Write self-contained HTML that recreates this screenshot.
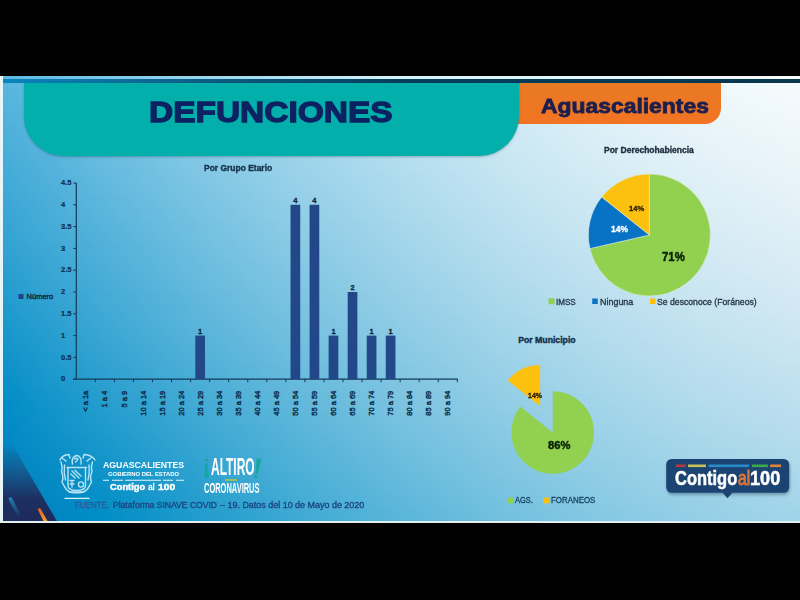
<!DOCTYPE html>
<html><head><meta charset="utf-8"><style>
html,body{margin:0;padding:0;background:#000;width:800px;height:600px;overflow:hidden}
.t{position:absolute;white-space:nowrap;font-family:"Liberation Sans",sans-serif;transform-origin:0 0}
.b{font-weight:700}
.xl{text-align:right;transform-origin:100% 50%;transform:rotate(-90deg);color:#10304c;font-weight:400;-webkit-text-stroke:0.45px #10304c}
#slide{position:absolute;left:0;top:76px;width:800px;height:447px;overflow:hidden}
#bg div{position:absolute;left:0;width:800px}
</style></head><body>
<div id="slide">
<div id="bg">
<div style="top:0px;height:6px;background:linear-gradient(90deg,#57b6de 0px,#77c4e4 100px,#94d1ea 200px,#addcef 300px,#c2e6f3 400px,#d4edf7 500px,#e3f4f9 600px,#eef8fb 700px,#f6fbfd 800px)"></div>
<div style="top:6px;height:6px;background:linear-gradient(90deg,#56b5dd 0px,#76c3e4 100px,#92d0ea 200px,#acdbef 300px,#c1e5f3 400px,#d3edf6 500px,#e2f3f9 600px,#eef8fb 700px,#f5fbfc 800px)"></div>
<div style="top:12px;height:6px;background:linear-gradient(90deg,#54b4dd 0px,#74c3e4 100px,#91d0e9 200px,#aadbee 300px,#c0e4f3 400px,#d3ecf6 500px,#e1f3f9 600px,#edf7fb 700px,#f5fafc 800px)"></div>
<div style="top:18px;height:6px;background:linear-gradient(90deg,#53b4dd 0px,#73c2e3 100px,#90cfe9 200px,#a9daee 300px,#bfe4f2 400px,#d2ecf6 500px,#e0f2f9 600px,#ecf7fb 700px,#f4fafc 800px)"></div>
<div style="top:24px;height:6px;background:linear-gradient(90deg,#52b3dc 0px,#72c1e3 100px,#8fcee9 200px,#a8daee 300px,#bee3f2 400px,#d1ebf5 500px,#e0f2f8 600px,#ebf6fa 700px,#f3f9fc 800px)"></div>
<div style="top:30px;height:6px;background:linear-gradient(90deg,#50b2dc 0px,#71c1e2 100px,#8ecee8 200px,#a7d9ed 300px,#bde3f2 400px,#d0ebf5 500px,#dff1f8 600px,#eaf6fa 700px,#f2f9fb 800px)"></div>
<div style="top:36px;height:6px;background:linear-gradient(90deg,#4fb1db 0px,#6fc0e2 100px,#8ccde8 200px,#a6d8ed 300px,#bce2f1 400px,#cfeaf5 500px,#def0f8 600px,#e9f5fa 700px,#f2f8fb 800px)"></div>
<div style="top:42px;height:6px;background:linear-gradient(90deg,#4eb1db 0px,#6ebfe2 100px,#8bcce7 200px,#a5d8ed 300px,#bbe2f1 400px,#cdeaf5 500px,#ddf0f7 600px,#e8f5fa 700px,#f1f8fb 800px)"></div>
<div style="top:48px;height:6px;background:linear-gradient(90deg,#4cb0db 0px,#6dbfe1 100px,#8acce7 200px,#a4d7ec 300px,#bae1f1 400px,#cce9f4 500px,#dceff7 600px,#e8f4f9 700px,#f0f7fb 800px)"></div>
<div style="top:54px;height:6px;background:linear-gradient(90deg,#4bafda 0px,#6bbee1 100px,#89cbe7 200px,#a2d7ec 300px,#b9e0f0 400px,#cbe8f4 500px,#dbeff7 600px,#e7f4f9 700px,#eff7fa 800px)"></div>
<div style="top:60px;height:6px;background:linear-gradient(90deg,#49afda 0px,#6abde0 100px,#87cae6 200px,#a1d6eb 300px,#b7e0f0 400px,#cae8f4 500px,#daeef7 600px,#e6f3f9 700px,#eef6fa 800px)"></div>
<div style="top:66px;height:6px;background:linear-gradient(90deg,#48aed9 0px,#69bde0 100px,#86cae6 200px,#a0d5eb 300px,#b6dff0 400px,#c9e7f3 500px,#d9eef6 600px,#e5f3f8 700px,#edf6fa 800px)"></div>
<div style="top:72px;height:6px;background:linear-gradient(90deg,#47add9 0px,#67bce0 100px,#85c9e6 200px,#9fd5eb 300px,#b5dfef 400px,#c8e7f3 500px,#d8edf6 600px,#e4f2f8 700px,#ecf5fa 800px)"></div>
<div style="top:78px;height:6px;background:linear-gradient(90deg,#45acd8 0px,#66bbdf 100px,#83c8e5 200px,#9dd4ea 300px,#b4deef 400px,#c7e6f3 500px,#d7edf6 600px,#e3f2f8 700px,#ecf5f9 800px)"></div>
<div style="top:84px;height:6px;background:linear-gradient(90deg,#44acd8 0px,#65bbdf 100px,#82c8e5 200px,#9cd3ea 300px,#b3ddef 400px,#c6e6f2 500px,#d6ecf5 600px,#e2f1f8 700px,#ebf5f9 800px)"></div>
<div style="top:90px;height:6px;background:linear-gradient(90deg,#42abd8 0px,#63bade 100px,#81c7e4 200px,#9bd3ea 300px,#b2ddee 400px,#c5e5f2 500px,#d5ecf5 600px,#e1f1f7 700px,#eaf4f9 800px)"></div>
<div style="top:96px;height:6px;background:linear-gradient(90deg,#41aad7 0px,#62b9de 100px,#80c6e4 200px,#9ad2e9 300px,#b0dcee 400px,#c4e4f2 500px,#d4ebf5 600px,#e0f0f7 700px,#e9f4f9 800px)"></div>
<div style="top:102px;height:6px;background:linear-gradient(90deg,#3fa9d7 0px,#60b8de 100px,#7ec6e4 200px,#98d1e9 300px,#afdbee 400px,#c3e4f1 500px,#d2ebf4 600px,#dff0f7 700px,#e8f3f8 800px)"></div>
<div style="top:108px;height:6px;background:linear-gradient(90deg,#3ea9d6 0px,#5fb8dd 100px,#7dc5e3 200px,#97d1e9 300px,#aedbed 400px,#c1e3f1 500px,#d1eaf4 600px,#deeff7 700px,#e7f3f8 800px)"></div>
<div style="top:114px;height:6px;background:linear-gradient(90deg,#3ca8d6 0px,#5eb7dd 100px,#7bc4e3 200px,#96d0e8 300px,#addaed 400px,#c0e3f1 500px,#d0e9f4 600px,#ddeff6 700px,#e6f2f8 800px)"></div>
<div style="top:120px;height:6px;background:linear-gradient(90deg,#3ba7d5 0px,#5cb6dc 100px,#7ac4e2 200px,#95cfe8 300px,#acdaed 400px,#bfe2f0 500px,#cfe9f4 600px,#dceef6 700px,#e5f2f8 800px)"></div>
<div style="top:126px;height:6px;background:linear-gradient(90deg,#39a6d5 0px,#5bb6dc 100px,#79c3e2 200px,#93cfe8 300px,#aad9ec 400px,#bee2f0 500px,#cee8f3 600px,#dbeef6 700px,#e4f1f7 800px)"></div>
<div style="top:132px;height:6px;background:linear-gradient(90deg,#38a6d5 0px,#59b5dc 100px,#77c2e2 200px,#92cee7 300px,#a9d8ec 400px,#bde1f0 500px,#cde8f3 600px,#daedf5 700px,#e3f1f7 800px)"></div>
<div style="top:138px;height:6px;background:linear-gradient(90deg,#36a5d4 0px,#58b4db 100px,#76c2e1 200px,#91cee7 300px,#a8d8ec 400px,#bce0ef 500px,#cce7f3 600px,#d9edf5 700px,#e2f0f7 800px)"></div>
<div style="top:144px;height:6px;background:linear-gradient(90deg,#35a4d4 0px,#56b3db 100px,#74c1e1 200px,#8fcde6 300px,#a6d7eb 400px,#bae0ef 500px,#cbe7f2 600px,#d8ecf5 700px,#e1f0f7 800px)"></div>
<div style="top:150px;height:6px;background:linear-gradient(90deg,#33a3d3 0px,#55b3da 100px,#73c0e1 200px,#8ecce6 300px,#a5d6eb 400px,#b9dfef 500px,#cae6f2 600px,#d7ebf5 700px,#e0eff6 800px)"></div>
<div style="top:156px;height:6px;background:linear-gradient(90deg,#31a3d3 0px,#53b2da 100px,#72c0e0 200px,#8ccce6 300px,#a4d6ea 400px,#b8dfef 500px,#c8e6f2 600px,#d5ebf4 700px,#dfeff6 800px)"></div>
<div style="top:162px;height:6px;background:linear-gradient(90deg,#30a2d2 0px,#52b1d9 100px,#70bfe0 200px,#8bcbe5 300px,#a3d5ea 400px,#b7deee 500px,#c7e5f1 600px,#d4eaf4 700px,#deeef6 800px)"></div>
<div style="top:168px;height:6px;background:linear-gradient(90deg,#2ea1d2 0px,#50b0d9 100px,#6fbedf 200px,#8acae5 300px,#a1d5ea 400px,#b5ddee 500px,#c6e4f1 600px,#d3eaf4 700px,#ddeef6 800px)"></div>
<div style="top:174px;height:6px;background:linear-gradient(90deg,#2da0d2 0px,#4fb0d9 100px,#6dbddf 200px,#88cae5 300px,#a0d4e9 400px,#b4ddee 500px,#c5e4f1 600px,#d2e9f3 700px,#dcedf5 800px)"></div>
<div style="top:180px;height:6px;background:linear-gradient(90deg,#2ba0d1 0px,#4dafd8 100px,#6cbddf 200px,#87c9e4 300px,#9fd3e9 400px,#b3dced 500px,#c4e3f1 600px,#d1e9f3 700px,#dbedf5 800px)"></div>
<div style="top:186px;height:6px;background:linear-gradient(90deg,#299fd1 0px,#4baed8 100px,#6abcde 200px,#85c8e4 300px,#9dd3e9 400px,#b1dced 500px,#c2e3f0 600px,#d0e8f3 700px,#daecf5 800px)"></div>
<div style="top:192px;height:6px;background:linear-gradient(90deg,#289ed0 0px,#4aadd7 100px,#69bbde 200px,#84c7e3 300px,#9cd2e8 400px,#b0dbed 500px,#c1e2f0 600px,#cfe8f3 700px,#d9ecf5 800px)"></div>
<div style="top:198px;height:6px;background:linear-gradient(90deg,#269dd0 0px,#48add7 100px,#67bbdd 200px,#82c7e3 300px,#9ad1e8 400px,#afdaec 500px,#c0e2f0 600px,#cde7f2 700px,#d7ebf4 800px)"></div>
<div style="top:204px;height:6px;background:linear-gradient(90deg,#249ccf 0px,#47acd7 100px,#66badd 200px,#81c6e3 300px,#99d1e8 400px,#aedaec 500px,#bfe1ef 600px,#cce7f2 700px,#d6ebf4 800px)"></div>
<div style="top:210px;height:6px;background:linear-gradient(90deg,#239ccf 0px,#45abd6 100px,#64b9dd 200px,#80c5e2 300px,#98d0e7 400px,#acd9ec 500px,#bde0ef 600px,#cbe6f2 700px,#d5eaf4 800px)"></div>
<div style="top:216px;height:6px;background:linear-gradient(90deg,#219bce 0px,#43aad6 100px,#62b8dc 200px,#7ec5e2 300px,#96cfe7 400px,#abd8eb 500px,#bce0ef 600px,#cae5f1 700px,#d4e9f4 800px)"></div>
<div style="top:222px;height:6px;background:linear-gradient(90deg,#1f9ace 0px,#42aad5 100px,#61b8dc 200px,#7dc4e2 300px,#95cfe7 400px,#a9d8eb 500px,#bbdfee 600px,#c9e5f1 700px,#d3e9f3 800px)"></div>
<div style="top:228px;height:6px;background:linear-gradient(90deg,#1d99ce 0px,#40a9d5 100px,#5fb7db 200px,#7bc3e1 300px,#93cee6 400px,#a8d7eb 500px,#b9dfee 600px,#c7e4f1 700px,#d2e8f3 800px)"></div>
<div style="top:234px;height:6px;background:linear-gradient(90deg,#1c99cd 0px,#3ea8d4 100px,#5eb6db 200px,#7ac3e1 300px,#92cde6 400px,#a7d7ea 500px,#b8deee 600px,#c6e4f1 700px,#d1e8f3 800px)"></div>
<div style="top:240px;height:6px;background:linear-gradient(90deg,#1a98cd 0px,#3da7d4 100px,#5cb6db 200px,#78c2e0 300px,#90cde6 400px,#a5d6ea 500px,#b7dded 600px,#c5e3f0 700px,#cfe7f2 800px)"></div>
<div style="top:246px;height:6px;background:linear-gradient(90deg,#1897cc 0px,#3ba7d4 100px,#5ab5da 200px,#76c1e0 300px,#8fcce5 400px,#a4d5ea 500px,#b5dded 600px,#c3e3f0 700px,#cee7f2 800px)"></div>
<div style="top:252px;height:6px;background:linear-gradient(90deg,#1696cc 0px,#39a6d3 100px,#59b4da 200px,#75c1e0 300px,#8dcbe5 400px,#a2d5e9 500px,#b4dced 600px,#c2e2f0 700px,#cde6f2 800px)"></div>
<div style="top:258px;height:6px;background:linear-gradient(90deg,#1595cb 0px,#38a5d3 100px,#57b3d9 200px,#73c0df 300px,#8ccbe4 400px,#a1d4e9 500px,#b3dced 600px,#c1e1ef 700px,#cce6f2 800px)"></div>
<div style="top:264px;height:6px;background:linear-gradient(90deg,#1395cb 0px,#36a4d2 100px,#56b3d9 200px,#72bfdf 300px,#8acae4 400px,#a0d3e9 500px,#b1dbec 600px,#c0e1ef 700px,#cae5f1 800px)"></div>
<div style="top:270px;height:6px;background:linear-gradient(90deg,#1194ca 0px,#34a4d2 100px,#54b2d9 200px,#70bedf 300px,#89c9e4 400px,#9ed3e8 500px,#b0daec 600px,#bee0ef 700px,#c9e5f1 800px)"></div>
<div style="top:276px;height:6px;background:linear-gradient(90deg,#0f93ca 0px,#32a3d2 100px,#52b1d8 200px,#6fbede 300px,#87c9e3 400px,#9dd2e8 500px,#afdaec 600px,#bde0ef 700px,#c8e4f1 800px)"></div>
<div style="top:282px;height:6px;background:linear-gradient(90deg,#0d92ca 0px,#31a2d1 100px,#51b0d8 200px,#6dbdde 300px,#86c8e3 400px,#9bd1e8 500px,#add9eb 600px,#bcdfee 700px,#c7e4f1 800px)"></div>
<div style="top:288px;height:6px;background:linear-gradient(90deg,#0c91c9 0px,#2fa1d1 100px,#4fb0d7 200px,#6bbcdd 300px,#84c7e3 400px,#9ad1e7 500px,#acd8eb 600px,#badfee 700px,#c5e3f0 800px)"></div>
<div style="top:294px;height:6px;background:linear-gradient(90deg,#0a90c9 0px,#2da0d0 100px,#4dafd7 200px,#6abcdd 300px,#83c7e2 400px,#98d0e7 500px,#aad8eb 600px,#b9deee 700px,#c4e2f0 800px)"></div>
<div style="top:300px;height:6px;background:linear-gradient(90deg,#0890c8 0px,#2ba0d0 100px,#4baed7 200px,#68bbdd 300px,#81c6e2 400px,#97cfe7 500px,#a9d7ea 600px,#b8dded 700px,#c3e2f0 800px)"></div>
<div style="top:306px;height:6px;background:linear-gradient(90deg,#068fc8 0px,#2a9fcf 100px,#4aadd6 200px,#66badc 300px,#7fc5e2 400px,#95cfe6 500px,#a7d7ea 600px,#b6dded 700px,#c1e1ef 800px)"></div>
<div style="top:312px;height:6px;background:linear-gradient(90deg,#048ec7 0px,#289ecf 100px,#48add6 200px,#65b9dc 300px,#7ec5e1 400px,#94cee6 500px,#a6d6ea 600px,#b5dced 700px,#c0e1ef 800px)"></div>
<div style="top:318px;height:6px;background:linear-gradient(90deg,#028dc7 0px,#269dce 100px,#46acd5 200px,#63b9db 300px,#7cc4e1 400px,#92cde5 500px,#a4d5e9 600px,#b3dced 700px,#bfe0ef 800px)"></div>
<div style="top:324px;height:6px;background:linear-gradient(90deg,#008cc6 0px,#249dce 100px,#44abd5 200px,#61b8db 300px,#7bc3e1 400px,#91cde5 500px,#a3d5e9 600px,#b2dbec 700px,#bde0ef 800px)"></div>
<div style="top:330px;height:6px;background:linear-gradient(90deg,#008cc6 0px,#229cce 100px,#43aad5 200px,#60b7db 300px,#79c3e0 400px,#8fcce5 500px,#a1d4e9 600px,#b0daec 700px,#bcdfee 800px)"></div>
<div style="top:336px;height:6px;background:linear-gradient(90deg,#008bc6 0px,#209bcd 100px,#41aad4 200px,#5eb7da 300px,#77c2e0 400px,#8dcbe4 500px,#a0d3e8 600px,#afdaec 700px,#bbdeee 800px)"></div>
<div style="top:342px;height:6px;background:linear-gradient(90deg,#008ac5 0px,#1f9acd 100px,#3fa9d4 200px,#5cb6da 300px,#76c1df 400px,#8ccbe4 500px,#9ed3e8 600px,#aed9eb 700px,#b9deee 800px)"></div>
<div style="top:348px;height:6px;background:linear-gradient(90deg,#0089c5 0px,#1d99cc 100px,#3da8d3 200px,#5ab5da 300px,#74c0df 400px,#8acae4 500px,#9dd2e8 600px,#acd9eb 700px,#b8dded 800px)"></div>
<div style="top:354px;height:6px;background:linear-gradient(90deg,#0088c4 0px,#1b99cc 100px,#3ba7d3 200px,#59b4d9 300px,#72c0df 400px,#89c9e3 500px,#9bd2e7 600px,#abd8eb 700px,#b7dded 800px)"></div>
<div style="top:360px;height:6px;background:linear-gradient(90deg,#0087c4 0px,#1998cb 100px,#3aa6d2 200px,#57b4d9 300px,#71bfde 400px,#87c9e3 500px,#9ad1e7 600px,#a9d7ea 700px,#b5dced 800px)"></div>
<div style="top:366px;height:6px;background:linear-gradient(90deg,#0087c3 0px,#1797cb 100px,#38a6d2 200px,#55b3d8 300px,#6fbede 400px,#85c8e3 500px,#98d0e7 600px,#a8d7ea 700px,#b4dced 800px)"></div>
<div style="top:372px;height:6px;background:linear-gradient(90deg,#0086c3 0px,#1596cb 100px,#36a5d2 200px,#53b2d8 300px,#6dbede 400px,#84c7e2 500px,#97d0e6 600px,#a6d6ea 700px,#b2dbec 800px)"></div>
<div style="top:378px;height:6px;background:linear-gradient(90deg,#0085c2 0px,#1395ca 100px,#34a4d1 200px,#51b1d8 300px,#6bbddd 400px,#82c7e2 500px,#95cfe6 600px,#a5d5e9 700px,#b1daec 800px)"></div>
<div style="top:384px;height:6px;background:linear-gradient(90deg,#0084c2 0px,#1194ca 100px,#32a3d1 200px,#50b1d7 300px,#6abcdd 400px,#80c6e2 500px,#93cee6 600px,#a3d5e9 700px,#afdaec 800px)"></div>
<div style="top:390px;height:6px;background:linear-gradient(90deg,#0083c1 0px,#0f94c9 100px,#30a3d0 200px,#4eb0d7 300px,#68bbdc 400px,#7fc5e1 500px,#92cee5 600px,#a2d4e9 700px,#aed9eb 800px)"></div>
<div style="top:396px;height:6px;background:linear-gradient(90deg,#0082c1 0px,#0d93c9 100px,#2ea2d0 200px,#4cafd6 300px,#66bbdc 400px,#7dc5e1 500px,#90cde5 600px,#a0d4e9 700px,#acd9eb 800px)"></div>
<div style="top:402px;height:6px;background:linear-gradient(90deg,#0081c0 0px,#0b92c8 100px,#2ca1d0 200px,#4aaed6 300px,#64badc 400px,#7bc4e1 500px,#8fcce5 600px,#9ed3e8 700px,#abd8eb 800px)"></div>
<div style="top:408px;height:6px;background:linear-gradient(90deg,#0081c0 0px,#0991c8 100px,#2ba0cf 200px,#48aed6 300px,#63b9db 400px,#7ac3e0 500px,#8dcce4 600px,#9dd2e8 700px,#a9d7eb 800px)"></div>
<div style="top:414px;height:6px;background:linear-gradient(90deg,#0080c0 0px,#0790c7 100px,#299fcf 200px,#46add5 300px,#61b8db 400px,#78c3e0 500px,#8bcbe4 600px,#9bd2e8 700px,#a8d7ea 800px)"></div>
<div style="top:420px;height:6px;background:linear-gradient(90deg,#007fbf 0px,#0590c7 100px,#279fce 200px,#45acd5 300px,#5fb8db 400px,#76c2e0 500px,#8acae4 600px,#9ad1e7 700px,#a6d6ea 800px)"></div>
<div style="top:426px;height:6px;background:linear-gradient(90deg,#007ebf 0px,#038fc7 100px,#259ece 200px,#43abd4 300px,#5db7da 400px,#74c1df 500px,#88cae3 600px,#98d0e7 700px,#a5d6ea 800px)"></div>
<div style="top:432px;height:6px;background:linear-gradient(90deg,#007dbe 0px,#018ec6 100px,#239dcd 200px,#41aad4 300px,#5bb6da 400px,#73c0df 500px,#86c9e3 600px,#96d0e7 700px,#a3d5e9 800px)"></div>
<div style="top:438px;height:6px;background:linear-gradient(90deg,#007cbe 0px,#008dc6 100px,#219ccd 200px,#3faad4 300px,#5ab6d9 400px,#71c0de 500px,#85c8e3 600px,#95cfe6 700px,#a2d4e9 800px)"></div>
<div style="top:444px;height:6px;background:linear-gradient(90deg,#007bbd 0px,#008cc5 100px,#1f9bcd 200px,#3da9d3 300px,#58b5d9 400px,#6fbfde 500px,#83c8e2 600px,#93cfe6 700px,#a0d4e9 800px)"></div>
</div>
</div>
<div style="position:absolute;left:0;top:76px;width:800px;height:3px;background:linear-gradient(90deg,#5cb9e2 0,#9ed8ef 220px,#d5f4fb 405px,#f0f8fb 720px,#f5fcfd 800px)"></div>
<div style="position:absolute;left:0;top:79px;width:800px;height:4px;background:linear-gradient(90deg,#0986bf 0,#0c5a7e 220px,#053e5c 405px,#08374e 800px)"></div>
<div style="position:absolute;left:0;top:76px;width:3px;height:447px;background:#e8f6fa"></div>
<div style="position:absolute;left:0;top:521px;width:800px;height:2px;background:#e2eef0"></div>
<!-- header -->
<div style="position:absolute;left:480px;top:83px;width:241px;height:40.5px;background:linear-gradient(180deg,#e97a24,#f27423);border-radius:0 0 16px 0"></div>
<div style="position:absolute;left:24px;top:83px;width:495px;height:72.5px;background:#03afaa;border-radius:0 0 40px 40px;box-shadow:0 1px 2.5px rgba(0,40,60,.3)"></div>
<svg style="position:absolute;left:0;top:0" width="800" height="600">
<line x1="76.3" y1="183" x2="76.3" y2="379.2" stroke="#133a58" stroke-width="1.2"/>
<line x1="73.3" y1="379.2" x2="457.8" y2="379.2" stroke="#133a58" stroke-width="1.2"/>
<line x1="73.3" y1="379.20" x2="76.3" y2="379.20" stroke="#133a58" stroke-width="1"/>
<line x1="73.3" y1="357.40" x2="76.3" y2="357.40" stroke="#133a58" stroke-width="1"/>
<line x1="73.3" y1="335.60" x2="76.3" y2="335.60" stroke="#133a58" stroke-width="1"/>
<line x1="73.3" y1="313.80" x2="76.3" y2="313.80" stroke="#133a58" stroke-width="1"/>
<line x1="73.3" y1="292.00" x2="76.3" y2="292.00" stroke="#133a58" stroke-width="1"/>
<line x1="73.3" y1="270.20" x2="76.3" y2="270.20" stroke="#133a58" stroke-width="1"/>
<line x1="73.3" y1="248.40" x2="76.3" y2="248.40" stroke="#133a58" stroke-width="1"/>
<line x1="73.3" y1="226.60" x2="76.3" y2="226.60" stroke="#133a58" stroke-width="1"/>
<line x1="73.3" y1="204.80" x2="76.3" y2="204.80" stroke="#133a58" stroke-width="1"/>
<line x1="73.3" y1="183.00" x2="76.3" y2="183.00" stroke="#133a58" stroke-width="1"/>
<line x1="95.35" y1="379.2" x2="95.35" y2="382.2" stroke="#133a58" stroke-width="1"/>
<line x1="114.40" y1="379.2" x2="114.40" y2="382.2" stroke="#133a58" stroke-width="1"/>
<line x1="133.45" y1="379.2" x2="133.45" y2="382.2" stroke="#133a58" stroke-width="1"/>
<line x1="152.50" y1="379.2" x2="152.50" y2="382.2" stroke="#133a58" stroke-width="1"/>
<line x1="171.55" y1="379.2" x2="171.55" y2="382.2" stroke="#133a58" stroke-width="1"/>
<line x1="190.60" y1="379.2" x2="190.60" y2="382.2" stroke="#133a58" stroke-width="1"/>
<line x1="209.65" y1="379.2" x2="209.65" y2="382.2" stroke="#133a58" stroke-width="1"/>
<line x1="228.70" y1="379.2" x2="228.70" y2="382.2" stroke="#133a58" stroke-width="1"/>
<line x1="247.75" y1="379.2" x2="247.75" y2="382.2" stroke="#133a58" stroke-width="1"/>
<line x1="266.80" y1="379.2" x2="266.80" y2="382.2" stroke="#133a58" stroke-width="1"/>
<line x1="285.85" y1="379.2" x2="285.85" y2="382.2" stroke="#133a58" stroke-width="1"/>
<line x1="304.90" y1="379.2" x2="304.90" y2="382.2" stroke="#133a58" stroke-width="1"/>
<line x1="323.95" y1="379.2" x2="323.95" y2="382.2" stroke="#133a58" stroke-width="1"/>
<line x1="343.00" y1="379.2" x2="343.00" y2="382.2" stroke="#133a58" stroke-width="1"/>
<line x1="362.05" y1="379.2" x2="362.05" y2="382.2" stroke="#133a58" stroke-width="1"/>
<line x1="381.10" y1="379.2" x2="381.10" y2="382.2" stroke="#133a58" stroke-width="1"/>
<line x1="400.15" y1="379.2" x2="400.15" y2="382.2" stroke="#133a58" stroke-width="1"/>
<line x1="419.20" y1="379.2" x2="419.20" y2="382.2" stroke="#133a58" stroke-width="1"/>
<line x1="438.25" y1="379.2" x2="438.25" y2="382.2" stroke="#133a58" stroke-width="1"/>
<line x1="457.30" y1="379.2" x2="457.30" y2="382.2" stroke="#133a58" stroke-width="1"/>
<rect x="195.28" y="335.60" width="9.7" height="43.60" fill="#23488a"/>
<rect x="290.52" y="204.80" width="9.7" height="174.40" fill="#23488a"/>
<rect x="309.57" y="204.80" width="9.7" height="174.40" fill="#23488a"/>
<rect x="328.62" y="335.60" width="9.7" height="43.60" fill="#23488a"/>
<rect x="347.68" y="292.00" width="9.7" height="87.20" fill="#23488a"/>
<rect x="366.73" y="335.60" width="9.7" height="43.60" fill="#23488a"/>
<rect x="385.77" y="335.60" width="9.7" height="43.60" fill="#23488a"/>
<path d="M649.40,235.00 L649.40,174.00 A61.0,61.0 0 1 1 589.93,248.57 Z" fill="#92d050" stroke="#dff0e4" stroke-width="0.5"/>
<path d="M649.40,235.00 L589.93,248.57 A61.0,61.0 0 0 1 601.71,196.97 Z" fill="#0872c4" stroke="#dff0e4" stroke-width="0.5"/>
<path d="M649.40,235.00 L601.71,196.97 A61.0,61.0 0 0 1 649.40,174.00 Z" fill="#fcc00f" stroke="#dff0e4" stroke-width="0.5"/>
<path d="M552.70,432.50 L552.70,391.20 A41.3,41.3 0 1 1 520.41,406.75 Z" fill="#92d050"/>
<path d="M540.12,406.37 L507.83,380.62 A41.3,41.3 0 0 1 540.12,365.07 Z" fill="#fcc00f"/>

<defs>
<linearGradient id="navyfade" x1="0" y1="0" x2="0" y2="1">
<stop offset="0" stop-color="#1e2b5c" stop-opacity="0"/>
<stop offset="0.35" stop-color="#1e3c6c" stop-opacity="0.55"/>
<stop offset="0.7" stop-color="#1e2b5c" stop-opacity="0.95"/>
<stop offset="1" stop-color="#1e2a5a" stop-opacity="1"/>
</linearGradient>
<linearGradient id="orstripe" x1="0" y1="0" x2="0" y2="1">
<stop offset="0" stop-color="#e8542a"/><stop offset="1" stop-color="#f4a424"/>
</linearGradient>
<linearGradient id="bluestripe" x1="0" y1="0" x2="0" y2="1">
<stop offset="0" stop-color="#1f8fc0"/><stop offset="1" stop-color="#1f8fc0" stop-opacity="0.2"/>
</linearGradient>
<filter id="bl" x="-10%" y="-10%" width="120%" height="120%"><feGaussianBlur stdDeviation="0.35"/></filter>
<filter id="sh" x="-20%" y="-20%" width="140%" height="160%"><feGaussianBlur stdDeviation="1.5"/></filter>
</defs>
<polygon points="3,444 12,444 56.8,521 3,521" fill="url(#navyfade)"/>
<line x1="10.5" y1="499" x2="18" y2="514" stroke="url(#bluestripe)" stroke-width="3.8" stroke-linecap="round" opacity="0.8"/>
<path d="M37.8,509.5 Q38.5,507.5 40.5,508.5 L47.5,521 L43.5,521 Z" fill="url(#orstripe)"/>
<!-- coat of arms -->
<g fill="none" stroke="#d8f2fc" stroke-width="1.4" stroke-linecap="round" stroke-linejoin="round" opacity="0.85" filter="url(#bl)">
<path d="M72.5,464 Q71,457 76.5,455.5 Q82,456 81,464"/>
<path d="M74.5,459 Q76,457.5 78,459 Q77,461 75.5,462"/>
<path d="M60,460 Q62,455 69,454.5 L70,458"/>
<path d="M95,460 Q92,455 84,454.5 L83,458"/>
<path d="M62,458 L66,461 M91,458 L87,461"/>
<path d="M61,462 Q63,467 61.5,472 Q64,477 62,482 Q64,486 66,489"/>
<path d="M92.5,462 Q90.5,467 92,472 Q89.5,477 91.5,482 Q89.5,486 87.5,489"/>
<path d="M64.5,465 Q63.5,473 65.5,480 M89,465 Q90,473 88,480"/>
<path d="M67,467.5 L86.5,467.5"/>
<path d="M68,468 L68,486 Q68,490 76.5,490.5 Q85.5,490 85.5,486 L85.5,468"/>
<path d="M72,471 L79,478 M75,470.5 L81,476 M71,474 L75,478"/>
<path d="M70,480.5 L74,480.5 M70,484 L74,484 M72,481 L72,487"/>
<circle cx="81" cy="484.5" r="2.6"/>
<path d="M66.5,489.5 Q70,493.5 76.5,492.5 Q83,493.5 87,489.5"/>
<path d="M69,492 L84,492"/>
</g>
<line x1="64.5" y1="498.4" x2="89.5" y2="498.4" stroke="#d8f2fc" stroke-width="1.3"/>
<!-- gobierno line -->
<path d="M103,480.2 H109 M112,480.2 H123 M125,480.2 H161 M163,480.2 H173 M176,480.2 H184" stroke="#e6f6fc" stroke-width="1.1"/>
<!-- altiro marks -->
<rect x="204.8" y="458.5" width="3" height="3" rx="0.8" fill="#17a6a3"/>
<path d="M205,463.5 L207.5,463.5 L209,478 L204.3,478 Z" fill="#17a6a3"/>
<path d="M256.5,458.5 L261.5,458.5 L258,474 L255.5,474 Z" fill="#17a6a3"/>
<rect x="254.3" y="475.3" width="3" height="3" rx="0.8" fill="#17a6a3"/>
<rect x="225" y="479" width="12" height="2" fill="#b8c640" opacity="0.8"/>
<!-- badge -->
<rect x="667" y="461" width="123" height="34" rx="6" fill="#0a2a40" opacity="0.35" filter="url(#sh)"/>
<rect x="666.2" y="459" width="123" height="33.8" rx="5.5" fill="#1c4472"/>
<path d="M722,492 L733,492 L727.5,498.2 Z" fill="#1c4472"/>
<rect x="675.8" y="464.5" width="10" height="2.6" fill="#b03a3e"/>
<rect x="688" y="464.5" width="18" height="2.6" fill="#c8c05a"/>
<rect x="708.6" y="464.5" width="40.4" height="2.6" fill="#2a8ac8"/>
<rect x="751.9" y="464.5" width="16" height="2.6" fill="#3fa84a"/>
<rect x="770.1" y="464.5" width="11" height="2.6" fill="#e0823a"/>
<rect x="18.5" y="294" width="5" height="5" fill="#283f8a"/>
<rect x="548.5" y="298.25" width="6" height="6" fill="#8fd14f"/>
<rect x="592.25" y="298.5" width="5.5" height="5.5" fill="#0872c4"/>
<rect x="650" y="298.5" width="5.5" height="5.5" fill="#fcc00f"/>
<rect x="507" y="497.4" width="6.5" height="6.2" rx="2" fill="#8fd14f"/>
<rect x="543" y="497.4" width="6.5" height="6.2" rx="2" fill="#fcc00f"/>
</svg>
<div class="t" style="left:61px;top:375.45px;font-size:7.5px;line-height:7.5px;font-weight:700;color:#10304c;-webkit-text-stroke:0.2px #10304c">0</div>
<div class="t" style="left:61px;top:353.65px;font-size:7.5px;line-height:7.5px;font-weight:700;color:#10304c;-webkit-text-stroke:0.2px #10304c">0.5</div>
<div class="t" style="left:61px;top:331.85px;font-size:7.5px;line-height:7.5px;font-weight:700;color:#10304c;-webkit-text-stroke:0.2px #10304c">1</div>
<div class="t" style="left:61px;top:310.05px;font-size:7.5px;line-height:7.5px;font-weight:700;color:#10304c;-webkit-text-stroke:0.2px #10304c">1.5</div>
<div class="t" style="left:61px;top:288.25px;font-size:7.5px;line-height:7.5px;font-weight:700;color:#10304c;-webkit-text-stroke:0.2px #10304c">2</div>
<div class="t" style="left:61px;top:266.45px;font-size:7.5px;line-height:7.5px;font-weight:700;color:#10304c;-webkit-text-stroke:0.2px #10304c">2.5</div>
<div class="t" style="left:61px;top:244.65px;font-size:7.5px;line-height:7.5px;font-weight:700;color:#10304c;-webkit-text-stroke:0.2px #10304c">3</div>
<div class="t" style="left:61px;top:222.85px;font-size:7.5px;line-height:7.5px;font-weight:700;color:#10304c;-webkit-text-stroke:0.2px #10304c">3.5</div>
<div class="t" style="left:61px;top:201.05px;font-size:7.5px;line-height:7.5px;font-weight:700;color:#10304c;-webkit-text-stroke:0.2px #10304c">4</div>
<div class="t" style="left:61px;top:179.25px;font-size:7.5px;line-height:7.5px;font-weight:700;color:#10304c;-webkit-text-stroke:0.2px #10304c">4.5</div>
<div class="t xl" style="left:46.42px;top:387.25px;width:40px;font-size:7.5px;line-height:7.5px">&lt; a 1a</div>
<div class="t xl" style="left:65.47px;top:387.25px;width:40px;font-size:7.5px;line-height:7.5px">1 a 4</div>
<div class="t xl" style="left:84.52px;top:387.25px;width:40px;font-size:7.5px;line-height:7.5px">5 a 9</div>
<div class="t xl" style="left:103.57px;top:387.25px;width:40px;font-size:7.5px;line-height:7.5px">10 a 14</div>
<div class="t xl" style="left:122.62px;top:387.25px;width:40px;font-size:7.5px;line-height:7.5px">15 a 19</div>
<div class="t xl" style="left:141.67px;top:387.25px;width:40px;font-size:7.5px;line-height:7.5px">20 a 24</div>
<div class="t xl" style="left:160.72px;top:387.25px;width:40px;font-size:7.5px;line-height:7.5px">25 a 29</div>
<div class="t xl" style="left:179.78px;top:387.25px;width:40px;font-size:7.5px;line-height:7.5px">30 a 34</div>
<div class="t xl" style="left:198.83px;top:387.25px;width:40px;font-size:7.5px;line-height:7.5px">35 a 39</div>
<div class="t xl" style="left:217.88px;top:387.25px;width:40px;font-size:7.5px;line-height:7.5px">40 a 44</div>
<div class="t xl" style="left:236.93px;top:387.25px;width:40px;font-size:7.5px;line-height:7.5px">45 a 49</div>
<div class="t xl" style="left:255.98px;top:387.25px;width:40px;font-size:7.5px;line-height:7.5px">50 a 54</div>
<div class="t xl" style="left:275.03px;top:387.25px;width:40px;font-size:7.5px;line-height:7.5px">55 a 59</div>
<div class="t xl" style="left:294.08px;top:387.25px;width:40px;font-size:7.5px;line-height:7.5px">60 a 64</div>
<div class="t xl" style="left:313.13px;top:387.25px;width:40px;font-size:7.5px;line-height:7.5px">65 a 69</div>
<div class="t xl" style="left:332.18px;top:387.25px;width:40px;font-size:7.5px;line-height:7.5px">70 a 74</div>
<div class="t xl" style="left:351.23px;top:387.25px;width:40px;font-size:7.5px;line-height:7.5px">75 a 79</div>
<div class="t xl" style="left:370.28px;top:387.25px;width:40px;font-size:7.5px;line-height:7.5px">80 a 84</div>
<div class="t xl" style="left:389.33px;top:387.25px;width:40px;font-size:7.5px;line-height:7.5px">85 a 89</div>
<div class="t xl" style="left:408.38px;top:387.25px;width:40px;font-size:7.5px;line-height:7.5px">90 a 94</div>
<div class="t b" style="left:190.12px;top:327.52px;width:20px;text-align:center;font-size:7.5px;line-height:7.5px;color:#10243a;-webkit-text-stroke:0.3px #10243a">1</div>
<div class="t b" style="left:285.38px;top:196.72px;width:20px;text-align:center;font-size:7.5px;line-height:7.5px;color:#10243a;-webkit-text-stroke:0.3px #10243a">4</div>
<div class="t b" style="left:304.43px;top:196.72px;width:20px;text-align:center;font-size:7.5px;line-height:7.5px;color:#10243a;-webkit-text-stroke:0.3px #10243a">4</div>
<div class="t b" style="left:323.48px;top:327.52px;width:20px;text-align:center;font-size:7.5px;line-height:7.5px;color:#10243a;-webkit-text-stroke:0.3px #10243a">1</div>
<div class="t b" style="left:342.53px;top:283.93px;width:20px;text-align:center;font-size:7.5px;line-height:7.5px;color:#10243a;-webkit-text-stroke:0.3px #10243a">2</div>
<div class="t b" style="left:361.58px;top:327.52px;width:20px;text-align:center;font-size:7.5px;line-height:7.5px;color:#10243a;-webkit-text-stroke:0.3px #10243a">1</div>
<div class="t b" style="left:380.62px;top:327.52px;width:20px;text-align:center;font-size:7.5px;line-height:7.5px;color:#10243a;-webkit-text-stroke:0.3px #10243a">1</div>
<div class="t" style="left:148.8px;top:95.74px;font-size:30.4px;line-height:30.4px;font-weight:700;color:#0c2262;transform:scaleX(1.101);-webkit-text-stroke:1.3px #0c2262;">DEFUNCIONES</div>
<div class="t" style="left:541px;top:96.08px;font-size:20.1px;line-height:20.1px;font-weight:700;color:#1c1f4e;transform:scaleX(1.139);-webkit-text-stroke:0.8px #1c1f4e;">Aguascalientes</div>
<div class="t" style="left:203.8px;top:164.16px;font-size:9px;line-height:9px;font-weight:700;color:#17324e;transform:scaleX(0.94);-webkit-text-stroke:0.4px #17324e;">Por Grupo Etario</div>
<div class="t" style="left:603.9px;top:144.70px;font-size:9.4px;line-height:9.4px;font-weight:700;color:#1f2d3d;transform:scaleX(0.907);-webkit-text-stroke:0.4px #1f2d3d;">Por Derechohabiencia</div>
<div class="t" style="left:518.2px;top:336.11px;font-size:8.7px;line-height:8.7px;font-weight:700;color:#13304a;transform:scaleX(1.0);-webkit-text-stroke:0.4px #13304a;">Por Municipio</div>
<div class="t" style="left:26.6px;top:292.80px;font-size:7.5px;line-height:7.5px;font-weight:400;color:#13304a;transform:scaleX(1.0);-webkit-text-stroke:0.45px #13304a;">Número</div>
<div class="t" style="left:556px;top:296.50px;font-size:9.4px;line-height:9.4px;font-weight:400;color:#26384a;transform:scaleX(0.86);-webkit-text-stroke:0.35px #26384a;">IMSS</div>
<div class="t" style="left:599.75px;top:296.50px;font-size:9.4px;line-height:9.4px;font-weight:400;color:#26384a;transform:scaleX(0.954);-webkit-text-stroke:0.35px #26384a;">Ninguna</div>
<div class="t" style="left:657px;top:296.50px;font-size:9.4px;line-height:9.4px;font-weight:400;color:#26384a;transform:scaleX(0.924);-webkit-text-stroke:0.35px #26384a;">Se desconoce (Foráneos)</div>
<div class="t" style="left:515px;top:495.46px;font-size:9.6px;line-height:9.6px;font-weight:400;color:#1a4468;transform:scaleX(0.773);-webkit-text-stroke:0.35px #1a4468;">AGS.</div>
<div class="t" style="left:550.6px;top:495.46px;font-size:9.6px;line-height:9.6px;font-weight:400;color:#1a4468;transform:scaleX(0.824);-webkit-text-stroke:0.35px #1a4468;">FORANEOS</div>
<div class="t" style="left:75.0px;top:500.61px;font-size:8.7px;line-height:8.7px;font-weight:400;color:#2a5a98;transform:scaleX(0.915);-webkit-text-stroke:0.3px #2a5a98;">FUENTE.</div>
<div class="t" style="left:112.6px;top:500.61px;font-size:8.7px;line-height:8.7px;font-weight:400;color:#1a4680;transform:scaleX(0.985);-webkit-text-stroke:0.35px #1a4680;">Plataforma SINAVE COVID</div>
<div class="t" style="left:220.0px;top:500.61px;font-size:8.7px;line-height:8.7px;font-weight:400;color:#1a4680;transform:scaleX(1.03);-webkit-text-stroke:0.35px #1a4680;">– 19. Datos del 10 de Mayo de 2020</div>
<div class="t" style="left:628.5px;top:205.02px;font-size:8px;line-height:8px;font-weight:700;color:#2b1d00;transform:scaleX(0.95);-webkit-text-stroke:0.35px #2b1d00;">14%</div>
<div class="t" style="left:611.25px;top:224.08px;font-size:9.5px;line-height:9.5px;font-weight:700;color:#ffffff;transform:scaleX(0.89);-webkit-text-stroke:0.35px #ffffff;">14%</div>
<div class="t" style="left:661.9px;top:250.68px;font-size:12px;line-height:12px;font-weight:700;color:#0a220a;transform:scaleX(0.95);-webkit-text-stroke:0.45px #0a220a;">71%</div>
<div class="t" style="left:528px;top:391.50px;font-size:7.5px;line-height:7.5px;font-weight:700;color:#2b1d00;transform:scaleX(0.93);-webkit-text-stroke:0.35px #2b1d00;">14%</div>
<div class="t" style="left:548px;top:440.41px;font-size:11.8px;line-height:11.8px;font-weight:700;color:#0a220a;transform:scaleX(0.945);-webkit-text-stroke:0.45px #0a220a;">86%</div>
<div class="t" style="left:103px;top:460.38px;font-size:9.5px;line-height:9.5px;font-weight:700;color:#ffffff;transform:scaleX(0.92);">AGUASCALIENTES</div>
<div class="t" style="left:108px;top:471.04px;font-size:6px;line-height:6px;font-weight:700;color:#ffffff;transform:scaleX(0.98);">GOBIERNO DEL ESTADO</div>
<div class="t" style="left:110.3px;top:482.38px;font-size:9.5px;line-height:9.5px;font-weight:700;color:#ffffff;transform:scaleX(0.98);-webkit-text-stroke:0.45px #ffffff;">Contigo</div>
<div class="t" style="left:148.0px;top:482.38px;font-size:9.5px;line-height:9.5px;font-weight:400;color:#ffffff;transform:scaleX(0.9);-webkit-text-stroke:0.3px #ffffff;">al</div>
<div class="t" style="left:157.5px;top:482.38px;font-size:9.5px;line-height:9.5px;font-weight:700;color:#ffffff;transform:scaleX(1.08);-webkit-text-stroke:0.45px #ffffff;">100</div>
<div class="t" style="left:211px;top:454.56px;font-size:24.6px;line-height:24.6px;font-weight:700;color:#ffffff;transform:scaleX(0.486);">ALTIRO</div>
<div class="t" style="left:204px;top:479.57px;font-size:15.2px;line-height:15.2px;font-weight:700;color:#ffffff;transform:scaleX(0.492);">CORONAVIRUS</div>
<div class="t" style="left:675.2px;top:468.68px;font-size:19.5px;line-height:19.5px;font-weight:700;color:#ffffff;transform:scaleX(0.845);-webkit-text-stroke:0.5px #ffffff;">Contigo</div>
<div class="t" style="left:737.5px;top:469.08px;font-size:19.5px;line-height:19.5px;font-weight:400;color:#d9763c;transform:scaleX(0.8);-webkit-text-stroke:0.9px #d9763c;">al</div>
<div class="t" style="left:750.2px;top:469.08px;font-size:19.5px;line-height:19.5px;font-weight:700;color:#ffffff;transform:scaleX(0.93);-webkit-text-stroke:0.5px #ffffff;">100</div>
</body></html>
